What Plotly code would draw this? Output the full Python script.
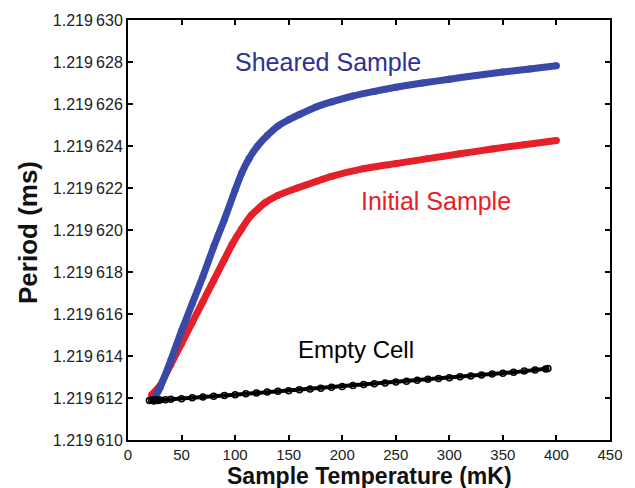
import plotly.graph_objects as go

# ---- data (temperature in mK, period in ms) ----
temp_sheared = [25, 30, 40, 50, 60, 70, 80, 90, 100, 106, 113, 121, 130, 140, 150, 160,
                175, 190, 210, 230, 250, 275, 300, 325, 350, 375, 400]
period_sheared = [1.2196120, 1.2196125, 1.2196138, 1.2196152, 1.2196165, 1.2196178, 1.2196192,
                  1.2196205, 1.2196219, 1.2196227, 1.2196234, 1.2196240, 1.2196245, 1.21962495,
                  1.21962525, 1.2196255, 1.21962585, 1.2196261, 1.21962638, 1.2196266,
                  1.2196268, 1.2196270, 1.21962718, 1.21962736, 1.21962752, 1.21962767,
                  1.21962782]

temp_initial = [22, 30, 40, 50, 60, 70, 80, 90, 97, 106, 115, 128, 140, 158, 175, 190,
                220, 250, 280, 310, 340, 370, 400]
period_initial = [1.21961215, 1.2196126, 1.2196136, 1.2196146, 1.2196156, 1.2196166,
                  1.2196176, 1.2196186, 1.2196193, 1.21962005, 1.2196207, 1.2196213,
                  1.21962165, 1.2196220, 1.2196223, 1.21962255, 1.21962292, 1.21962316,
                  1.2196234, 1.21962363, 1.21962386, 1.21962406, 1.21962426]

temp_empty = [20, 22, 24, 26, 28, 30, 35, 40, 50, 60, 70, 80, 90, 100, 110, 120, 130, 140,
              150, 160, 170, 180, 190, 200, 210, 220, 230, 240, 250, 260, 270, 280, 290,
              300, 310, 320, 330, 340, 350, 360, 370, 380, 390, 392]
period_empty = [1.21961188, 1.2196119, 1.21961186, 1.21961192, 1.21961188, 1.2196119,
                1.21961192, 1.21961194, 1.21961197, 1.21961201, 1.21961205, 1.21961208,
                1.21961212, 1.21961216, 1.2196122, 1.21961224, 1.21961228, 1.21961232,
                1.21961235, 1.21961239, 1.21961243, 1.21961247, 1.21961251, 1.21961255,
                1.2196126, 1.21961264, 1.21961268, 1.21961272, 1.21961276, 1.2196128,
                1.21961285, 1.21961289, 1.21961293, 1.21961297, 1.21961301, 1.21961305,
                1.21961309, 1.21961314, 1.21961318, 1.21961323, 1.21961328, 1.21961333,
                1.21961338, 1.2196134]

x_ticks = [0, 50, 100, 150, 200, 250, 300, 350, 400, 450]
y_ticks = [1.219610, 1.219612, 1.219614, 1.219616, 1.219618, 1.219620,
           1.219622, 1.219624, 1.219626, 1.219628, 1.219630]
y_ticktext = ["1.219\u2009610", "1.219\u2009612", "1.219\u2009614", "1.219\u2009616",
              "1.219\u2009618", "1.219\u2009620", "1.219\u2009622", "1.219\u2009624",
              "1.219\u2009626", "1.219\u2009628", "1.219\u2009630"]

BLUE = "#3849a8"
BLUE_TXT = "#2e3192"
RED = "#e6202a"
RED_TXT = "#ec1c24"
FONT = "Liberation Sans, Arial, sans-serif"

fig = go.Figure()
fig.add_trace(go.Scatter(
    x=temp_initial, y=period_initial, mode="lines+markers",
    line=dict(color=RED, width=7, shape="spline", smoothing=0.4),
    marker=dict(color=RED, size=7), showlegend=False))
fig.add_trace(go.Scatter(
    x=temp_sheared, y=period_sheared, mode="lines+markers",
    line=dict(color=BLUE, width=7, shape="spline", smoothing=0.4),
    marker=dict(color=BLUE, size=7), showlegend=False))
fig.add_trace(go.Scatter(
    x=temp_empty, y=period_empty, mode="lines+markers",
    line=dict(color="black", width=4),
    marker=dict(symbol="circle-open", color="black", size=6, line=dict(width=1.5)),
    showlegend=False))

fig.add_annotation(x=186.7, y=1.21962802, text="Sheared Sample", showarrow=False,
                   font=dict(family=FONT, size=25, color=BLUE_TXT))
fig.add_annotation(x=287.5, y=1.21962140, text="Initial Sample", showarrow=False,
                   font=dict(family=FONT, size=25, color=RED_TXT))
fig.add_annotation(x=212.4, y=1.21961430, text="Empty Cell", showarrow=False,
                   font=dict(family=FONT, size=24, color="black"))

# axis titles
fig.add_annotation(x=0.5, y=0, xref="paper", yref="paper", xanchor="center", yanchor="top",
                   yshift=-21, text="<b>Sample Temperature (mK)</b>", showarrow=False,
                   font=dict(family=FONT, size=23, color="#111"))
fig.add_annotation(x=0, y=0.5, xref="paper", yref="paper", xanchor="right", yanchor="middle",
                   xshift=-83, yshift=-3, text="<b>Period (ms)</b>", textangle=-90,
                   showarrow=False, font=dict(family=FONT, size=26, color="#111"))

axis_common = dict(showgrid=False, zeroline=False, showline=True, linecolor="black",
                   linewidth=2, mirror="ticks", ticks="inside", ticklen=5, tickwidth=1.5,
                   tickcolor="black")
fig.update_xaxes(range=[0, 450], tickvals=x_ticks,
                 tickfont=dict(family=FONT, size=15, color="#222"), **axis_common)
fig.update_yaxes(range=[1.219610, 1.219630], tickvals=y_ticks, ticktext=y_ticktext,
                 tickfont=dict(family=FONT, size=16, color="#222"), **axis_common)

fig.update_layout(width=635, height=488, margin=dict(l=128, r=17, t=17, b=48),
                  paper_bgcolor="white", plot_bgcolor="white")

fig.write_html("out.html")
